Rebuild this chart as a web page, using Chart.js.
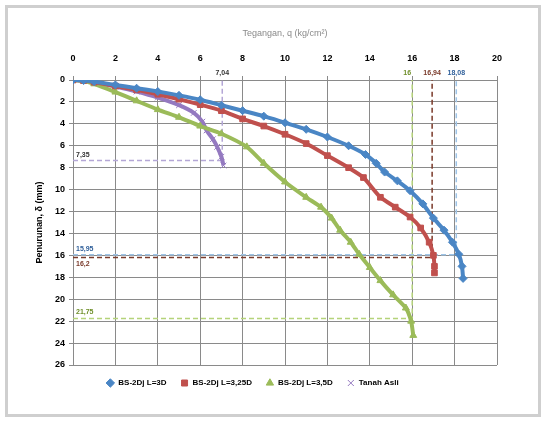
<!DOCTYPE html>
<html>
<head>
<meta charset="utf-8">
<script src="https://cdn.jsdelivr.net/npm/chart.js@4.4.1/dist/chart.umd.min.js"></script>
<style>
  body { margin: 0; background: #fff; }
  #frame {
    position: absolute; left: 5px; top: 5px;
    width: 530px; height: 406px;
    border: 3px solid #cfcfcf; background: #fff;
  }
  canvas { display: block; }
</style>
</head>
<body>
<div id="frame"><canvas id="chart" width="530" height="406"></canvas></div>
<script>
// series: q = tegangan (kg/cm2), d = penurunan (mm)
const seriesNames = ['BS-2Dj L=3D', 'BS-2Dj L=3,25D', 'BS-2Dj L=3,5D', 'Tanah Asli'];

const blueQ = [0, 0.5, 1, 2, 3, 4, 5, 6, 7, 8, 9, 10, 11, 12, 13, 13.8, 14.3, 14.7, 15.3, 15.9, 16.5, 17.0, 17.5, 17.9, 18.2, 18.35, 18.4];
const blueD = [0, 0.05, 0.15, 0.45, 0.75, 1.05, 1.4, 1.8, 2.3, 2.8, 3.3, 3.9, 4.5, 5.2, 6.0, 6.8, 7.6, 8.4, 9.2, 10.1, 11.3, 12.6, 13.7, 14.8, 15.9, 17.0, 18.1];

const redQ = [0, 0.5, 1, 2, 3, 4, 5, 6, 7, 8, 9, 10, 11, 12, 13, 13.7, 14.5, 15.2, 15.9, 16.4, 16.8, 17.0, 17.05, 17.05];
const redD = [0, 0.05, 0.2, 0.55, 0.9, 1.3, 1.75, 2.25, 2.8, 3.55, 4.2, 4.95, 5.8, 6.9, 8.0, 8.9, 10.7, 11.6, 12.5, 13.5, 14.8, 16.0, 17.0, 17.6];

const greenQ = [0, 0.5, 1, 2, 3, 4, 5, 6, 7, 8.2, 9, 10, 11, 11.7, 12.2, 12.6, 13.1, 13.5, 14.0, 14.5, 15.1, 15.7, 15.95, 16.05];
const greenD = [0, 0.1, 0.35, 1.1, 1.9, 2.7, 3.4, 4.2, 4.9, 6.1, 7.6, 9.3, 10.7, 11.6, 12.6, 13.7, 14.8, 15.9, 17.1, 18.3, 19.6, 20.8, 22.0, 23.3];

const purpleQ = [0, 0.5, 1, 2, 3, 4, 5, 5.7, 6.1, 6.3, 6.6, 6.8, 7.0, 7.1];
const purpleD = [0, 0.05, 0.2, 0.6, 1.05, 1.6, 2.3, 3.0, 3.8, 4.6, 5.4, 6.1, 7.0, 7.8];

// reference (ultimate) values per series: blue, red, green, purple
const refQ = [18.08, 16.94, 16, 7.04];
const refD = [15.95, 16.2, 21.75, 7.35];
const refQText = ['18,08', '16,94', '16', '7,04'];
const refDText = ['15,95', '16,2', '21,75', '7,35'];

const xTicks = [0, 2, 4, 6, 8, 10, 12, 14, 16, 18, 20];
const yTicks = [0, 2, 4, 6, 8, 10, 12, 14, 16, 18, 20, 22, 24, 26];

const colors = ['#4a86c5', '#c0504d', '#9bbb59', '#9479c0'];
const refColors = ['#9dc3e6', '#7a3a2a', '#b5d37a', '#b4a7d6'];
const markers = ['rectRot', 'rect', 'triangle', 'crossRot'];

function pts(qs, ds) {
    return qs.map((q, i) => ({ x: q, y: ds[i] }));
}

const allQ = [blueQ, redQ, greenQ, purpleQ];
const allD = [blueD, redD, greenD, purpleD];

const datasets = seriesNames.map((name, i) => ({
    label: name,
    data: pts(allQ[i], allD[i]),
    showLine: true,
    borderColor: colors[i],
    backgroundColor: colors[i],
    borderWidth: 4,
    pointStyle: markers[i],
    pointRadius: 4,
    pointBorderWidth: 1,
    tension: 0.2
}));

refQ.forEach((q, i) => {
    datasets.push({
        label: 'ref' + i,
        data: [{ x: 0, y: refD[i] }, { x: q, y: refD[i] }, { x: q, y: 0 }],
        showLine: true,
        borderColor: refColors[i],
        borderWidth: 1.5,
        borderDash: [5, 3],
        pointRadius: 0,
        fill: false
    });
});

const refLabels = {
    id: 'refLabels',
    afterDatasetsDraw(chart) {
        const { ctx, scales } = chart;
        const xs = scales.x, ys = scales.y;
        ctx.save();
        ctx.font = 'bold 7px "Liberation Sans", Arial, sans-serif';
        ctx.textBaseline = 'middle';
        refQ.forEach((q, i) => {
            ctx.fillStyle = ['#2f5f9a', '#7a3a2a', '#6f8f2a', '#333'][i];
            ctx.textAlign = 'center';
            let px = xs.getPixelForValue(q);
            if (i === 2) px -= 5;
            ctx.fillText(refQText[i], px, ys.top - 7);
            ctx.textAlign = 'left';
            let py = ys.getPixelForValue(refD[i]);
            py += i === 1 ? 6 : -6;
            ctx.fillText(refDText[i], xs.left + 3, py);
        });
        ctx.restore();
    }
};

new Chart(document.getElementById('chart').getContext('2d'), {
    type: 'scatter',
    data: { datasets },
    options: {
        responsive: false,
        animation: false,
        layout: { padding: { left: 0, right: 41, top: 0, bottom: 17 } },
        scales: {
            x: {
                position: 'top',
                min: 0, max: 20,
                afterBuildTicks(axis) { axis.ticks = xTicks.map((v) => ({ value: v })); },
                afterFit(axis) { axis.height = 72; },
                ticks: {
                    color: '#000',
                    font: { family: '"Liberation Sans", Arial, sans-serif', size: 9, weight: 'bold' },
                    padding: 12
                },
                grid: { color: '#8a8a8a', lineWidth: 1, tickLength: 4 },
                border: { color: '#8a8a8a' },
                title: {
                    display: true,
                    text: 'Tegangan, q (kg/cm²)',
                    color: '#8a8a8a',
                    font: { family: '"Liberation Sans", Arial, sans-serif', size: 9 },
                    padding: { top: 20, bottom: 10 }
                }
            },
            y: {
                reverse: true,
                min: 0, max: 26,
                afterBuildTicks(axis) { axis.ticks = yTicks.map((v) => ({ value: v })); },
                afterFit(axis) { axis.width = 65; },
                ticks: {
                    color: '#000',
                    font: { family: '"Liberation Sans", Arial, sans-serif', size: 9, weight: 'bold' },
                    padding: 4
                },
                grid: { color: '#8a8a8a', lineWidth: 1, tickLength: 4 },
                border: { color: '#8a8a8a' },
                title: {
                    display: true,
                    text: 'Penurunan, δ (mm)',
                    color: '#000',
                    font: { family: '"Liberation Sans", Arial, sans-serif', size: 9, weight: 'bold' },
                    padding: { top: 26, bottom: 0 }
                }
            }
        },
        plugins: {
            legend: {
                position: 'bottom',
                labels: {
                    filter: (item) => item.datasetIndex < 4,
                    usePointStyle: true,
                    boxWidth: 8,
                    boxHeight: 6,
                    padding: 14,
                    color: '#000',
                    font: { family: '"Liberation Sans", Arial, sans-serif', size: 8, weight: 'bold' }
                }
            },
            tooltip: { enabled: false }
        }
    },
    plugins: [refLabels]
});
</script>
</body>
</html>
